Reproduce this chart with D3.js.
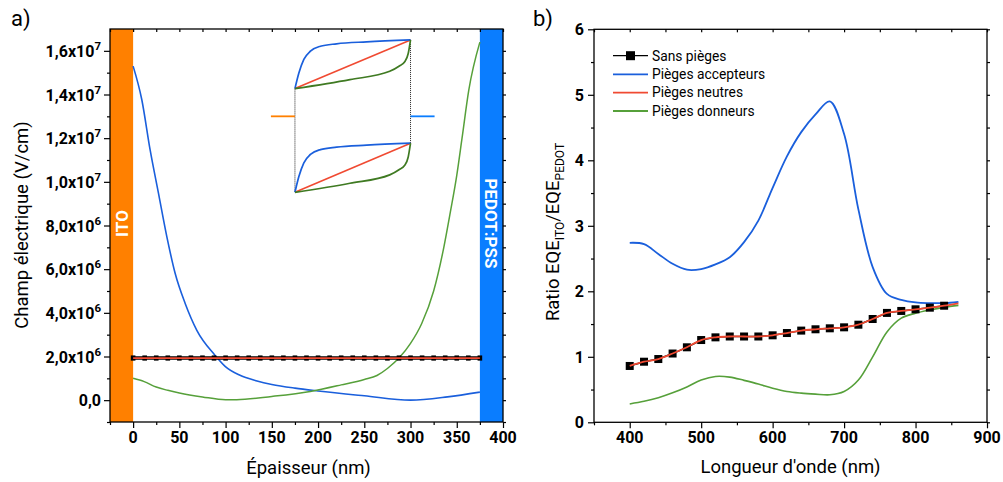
<!DOCTYPE html>
<html><head><meta charset="utf-8">
<script src="https://cdn.jsdelivr.net/npm/d3@7"></script>
<style>body{margin:0;background:#fff} svg{display:block} text{font-family:Roboto,'Noto Sans',sans-serif}</style>
</head><body><svg id="c" width="1003" height="482"></svg>
<script>
// ---------- Panel a) data ----------
const accX = [0, 9.4, 18.4, 27.4, 36.5, 45.5, 56.3, 68.9, 88.7, 99.5, 115, 134, 150, 175, 200, 250, 300, 340, 375];
const accField = [15.3e6, 13.76e6, 11.46e6, 9.48e6, 7.48e6, 5.8e6, 4.43e6, 3.2e6, 2.05e6, 1.55e6, 1.15e6, 0.88e6, 0.72e6, 0.55e6, 0.42e6, 0.2e6, 0.0, 0.15e6, 0.37e6];
const donX = [0, 12, 25, 37.5, 50, 75, 100, 112, 150, 191.6, 225, 250, 263.7, 275, 288, 300, 312, 325, 336, 343, 350, 355.7, 363, 375];
const donField = [1.0e6, 0.85e6, 0.6e6, 0.45e6, 0.33e6, 0.15e6, 0.02e6, 0.02e6, 0.17e6, 0.4e6, 0.7e6, 0.95e6, 1.13e6, 1.45e6, 1.95e6, 2.6e6, 3.5e6, 5.0e6, 7.0e6, 8.6e6, 10.3e6, 12.0e6, 14.2e6, 16.4e6];
const flatX = [0, 12.5, 25, 37.5, 50, 62.5, 75, 87.5, 100, 112.5, 125, 137.5, 150, 162.5, 175, 187.5, 200, 212.5, 225, 237.5, 250, 262.5, 275, 287.5, 300, 312.5, 325, 337.5, 350, 362.5, 375];
const flatField = [1.93e6, 1.93e6, 1.93e6, 1.93e6, 1.93e6, 1.93e6, 1.93e6, 1.93e6, 1.93e6, 1.93e6, 1.93e6, 1.93e6, 1.93e6, 1.93e6, 1.93e6, 1.93e6, 1.93e6, 1.93e6, 1.93e6, 1.93e6, 1.93e6, 1.93e6, 1.93e6, 1.93e6, 1.93e6, 1.93e6, 1.93e6, 1.93e6, 1.93e6, 1.93e6, 1.93e6];
const ticksA_X = [0, 50, 100, 150, 200, 250, 300, 350, 400];
const ticksA_Y = [0, 2e6, 4e6, 6e6, 8e6, 1e7, 1.2e7, 1.4e7, 1.6e7];
const ticksA_Ymant = ["0,0", "2,0", "4,0", "6,0", "8,0", "1,0", "1,2", "1,4", "1,6"];
const ticksA_Yexp = ["", "6", "6", "6", "6", "7", "7", "7", "7"];
const bandITO = [-25, 0];
const bandPEDOT = [375, 400];
// inset schematic (placed in data units of panel a)
const insetX = [175, 300];
const insetTopY = [14.27e6, 16.5e6];
const insetBotY = [9.52e6, 11.77e6];
const insetLeadY = 13.0e6;
const insetLeadITO = [149, 175];
const insetLeadPEDOT = [300, 326];
const insetAccT = [0, 0.034, 0.077, 0.134, 0.22, 0.36, 0.62, 1];
const insetAccV = [0, 0.32, 0.6, 0.77, 0.87, 0.92, 0.96, 1];
const insetNeuT = [0, 1];
const insetNeuV = [0, 1];
const insetDonT = [0, 0.476, 0.82, 0.9, 0.95, 0.98, 1];
const insetDonV = [0, 0.185, 0.355, 0.46, 0.55, 0.72, 1];

// ---------- Panel b) data ----------
const wl = [400, 420, 440, 460, 480, 500, 520, 540, 560, 580, 600, 620, 640, 660, 680, 700, 720, 740, 760, 780, 800, 820, 840, 860];
const ratioNone = [0.86, 0.925, 0.966, 1.05, 1.145, 1.256, 1.297, 1.31, 1.31, 1.31, 1.328, 1.363, 1.40, 1.42, 1.435, 1.45, 1.49, 1.577, 1.67, 1.70, 1.725, 1.75, 1.78];
const ratioAcc = [2.74, 2.72, 2.57, 2.42, 2.33, 2.34, 2.41, 2.52, 2.75, 3.08, 3.58, 4.06, 4.43, 4.70, 4.90, 4.40, 3.25, 2.37, 1.96, 1.87, 1.83, 1.82, 1.82, 1.84];
const ratioNeu = [0.86, 0.925, 0.966, 1.05, 1.145, 1.256, 1.297, 1.31, 1.31, 1.31, 1.328, 1.363, 1.40, 1.42, 1.435, 1.45, 1.49, 1.577, 1.67, 1.70, 1.725, 1.75, 1.78, 1.817];
const ratioDon = [0.28, 0.32, 0.375, 0.45, 0.54, 0.645, 0.70, 0.69, 0.64, 0.585, 0.52, 0.47, 0.445, 0.43, 0.42, 0.47, 0.645, 1.0, 1.38, 1.59, 1.665, 1.715, 1.755, 1.785];
const ticksB_X = [400, 500, 600, 700, 800, 900];
const ticksB_Y = [0, 1, 2, 3, 4, 5, 6];
const legendLabels = ["Sans pièges", "Pièges accepteurs", "Pièges neutres", "Pièges donneurs"];

// ---------- styles ----------
const C = {blue: "#1a5fdc", red: "#f04a32", green: "#56a03a", black: "#000",
  orange: "#ff8000", bandBlue: "#0a7dff", insetGreen: "#3f7a22"};

const svg = d3.select("#c");

function drawFrame(g, x, y, xMaj, xMin, yMaj, yMin) {
  const [x0, x1] = x.range(), [y0, y1] = y.range();
  g.append("g").attr("transform", `translate(0,${y0})`)
    .call(d3.axisBottom(x).tickValues(xMin).tickSize(3).tickFormat(""));
  g.append("g").attr("transform", `translate(0,${y0})`)
    .call(d3.axisBottom(x).tickValues(xMaj).tickSize(6).tickFormat(""));
  g.append("g").attr("transform", `translate(0,${y1})`)
    .call(d3.axisBottom(x).tickValues(xMin.concat(xMaj)).tickSize(3).tickFormat(""));
  g.append("g").attr("transform", `translate(${x0},0)`)
    .call(d3.axisLeft(y).tickValues(yMin).tickSize(3).tickFormat(""));
  g.append("g").attr("transform", `translate(${x0},0)`)
    .call(d3.axisLeft(y).tickValues(yMaj).tickSize(6).tickFormat(""));
  g.append("g").attr("transform", `translate(${x1},0)`)
    .call(d3.axisRight(y).tickValues(yMin.concat(yMaj)).tickSize(3).tickFormat(""));
  g.selectAll(".domain").remove();
  g.selectAll(".tick line").attr("stroke", "#000").attr("stroke-width", 1.2);
  g.append("rect").attr("x", x0).attr("y", y1).attr("width", x1 - x0).attr("height", y0 - y1)
    .attr("fill", "none").attr("stroke", "#000").attr("stroke-width", 1.3);
}

// ================= Panel a =================
const xa = d3.scaleLinear().domain([-25, 400]).range([110, 503]);
const ya = d3.scaleLinear().domain([-1e6, 1.7e7]).range([422, 29]);
const ga = svg.append("g");

ga.append("rect").attr("x", xa(bandITO[0])).attr("y", ya(1.7e7)).attr("width", xa(bandITO[1]) - xa(bandITO[0]))
  .attr("height", ya(-1e6) - ya(1.7e7)).attr("fill", C.orange);
ga.append("rect").attr("x", xa(bandPEDOT[0])).attr("y", ya(1.7e7)).attr("width", xa(bandPEDOT[1]) - xa(bandPEDOT[0]))
  .attr("height", ya(-1e6) - ya(1.7e7)).attr("fill", C.bandBlue);
const yMid = (ya(1.7e7) + ya(-1e6)) / 2 - 2;
ga.append("text").attr("transform", `translate(${(xa(-25) + xa(0)) / 2 + 6},${yMid}) rotate(-90)`)
  .attr("text-anchor", "middle").attr("fill", "#fff").attr("font-weight", "bold").attr("font-size", 17).text("ITO");
ga.append("text").attr("transform", `translate(${(xa(375) + xa(400)) / 2 - 6},${yMid}) rotate(90)`)
  .attr("text-anchor", "middle").attr("fill", "#fff").attr("font-weight", "bold").attr("font-size", 17).text("PEDOT:PSS");

const lineA = d3.line().x(d => xa(d[0])).y(d => ya(d[1])).curve(d3.curveMonotoneX);
ga.append("path").attr("d", lineA(d3.zip(accX, accField))).attr("fill", "none").attr("stroke", C.blue).attr("stroke-width", 1.6);
ga.append("path").attr("d", lineA(d3.zip(donX, donField))).attr("fill", "none").attr("stroke", C.green).attr("stroke-width", 1.5);
ga.append("path").attr("d", lineA(d3.zip(flatX, flatField))).attr("fill", "none").attr("stroke", "#000").attr("stroke-width", 3.6);
ga.selectAll(".sqa").data(d3.zip(flatX, flatField)).enter().append("rect")
  .attr("x", d => xa(d[0]) - 2.3).attr("y", d => ya(d[1]) - 2.6).attr("width", 4.6).attr("height", 5.2).attr("fill", "#000");
ga.append("path").attr("d", lineA(d3.zip(flatX, flatField))).attr("fill", "none").attr("stroke", C.red).attr("stroke-width", 1.8);

// inset
function insetPath(T, V, base) {
  const pts = T.map((t, i) => [insetX[0] + t * (insetX[1] - insetX[0]), base[0] + V[i] * (base[1] - base[0])]);
  return d3.line().x(d => xa(d[0])).y(d => ya(d[1])).curve(d3.curveMonotoneX)(pts);
}
[[insetX[0], insetTopY[0], insetBotY[0]], [insetX[1], insetTopY[1], insetBotY[1]]].forEach(v => {
  ga.append("line").attr("x1", xa(v[0])).attr("x2", xa(v[0])).attr("y1", ya(v[1])).attr("y2", ya(v[2]))
    .attr("stroke", "#222").attr("stroke-width", 1).attr("stroke-dasharray", "1,1");
});
ga.append("line").attr("x1", xa(insetLeadITO[0])).attr("x2", xa(insetLeadITO[1])).attr("y1", ya(insetLeadY)).attr("y2", ya(insetLeadY))
  .attr("stroke", C.orange).attr("stroke-width", 1.8);
ga.append("line").attr("x1", xa(insetLeadPEDOT[0])).attr("x2", xa(insetLeadPEDOT[1])).attr("y1", ya(insetLeadY)).attr("y2", ya(insetLeadY))
  .attr("stroke", C.bandBlue).attr("stroke-width", 1.8);
[insetTopY, insetBotY].forEach(base => {
  ga.append("path").attr("d", insetPath(insetNeuT, insetNeuV, base)).attr("fill", "none").attr("stroke", C.red).attr("stroke-width", 1.6);
  ga.append("path").attr("d", insetPath(insetAccT, insetAccV, base)).attr("fill", "none").attr("stroke", C.blue).attr("stroke-width", 1.7);
  ga.append("path").attr("d", insetPath(insetDonT, insetDonV, base)).attr("fill", "none").attr("stroke", C.insetGreen).attr("stroke-width", 1.7);
});

const xaMin = [-25, 25, 75, 125, 175, 225, 275, 325, 375];
const yaMin = [-1e6, 1e6, 3e6, 5e6, 7e6, 9e6, 1.1e7, 1.3e7, 1.5e7];
drawFrame(ga, xa, ya, ticksA_X, xaMin, ticksA_Y, yaMin);

ga.selectAll(".xla").data(ticksA_X).enter().append("text")
  .attr("x", d => xa(d)).attr("y", 443).attr("text-anchor", "middle")
  .attr("font-weight", "bold").attr("font-size", 16).text(d => d);
ticksA_Y.forEach((v, i) => {
  const t = ga.append("text").attr("x", 101).attr("y", ya(v) + 6).attr("text-anchor", "end")
    .attr("font-weight", "bold").attr("font-size", 16);
  if (ticksA_Yexp[i]) {
    t.append("tspan").text(ticksA_Ymant[i] + "x10");
    t.append("tspan").attr("dy", -7).attr("font-size", 11.5).text(ticksA_Yexp[i]);
  } else {
    t.text(ticksA_Ymant[i]);
  }
});
ga.append("text").attr("x", (xa(-25) + xa(400)) / 2 + 2).attr("y", 474).attr("text-anchor", "middle")
  .attr("font-size", 18.5).text("Épaisseur (nm)");
ga.append("text").attr("transform", `translate(28,225) rotate(-90)`).attr("text-anchor", "middle")
  .attr("font-size", 18.5).text("Champ électrique (V/cm)");
svg.append("text").attr("x", 11).attr("y", 26).attr("font-size", 22).text("a)");

// ================= Panel b =================
const xb = d3.scaleLinear().domain([350, 900]).range([594, 987]);
const yb = d3.scaleLinear().domain([0, 6]).range([422.3, 29.3]);
const gb = svg.append("g");
const lineB = d3.line().x(d => xb(d[0])).y(d => yb(d[1])).curve(d3.curveCatmullRom.alpha(0.5));
gb.append("path").attr("d", lineB(d3.zip(wl, ratioAcc))).attr("fill", "none").attr("stroke", C.blue).attr("stroke-width", 1.8);
gb.append("path").attr("d", lineB(d3.zip(wl, ratioDon))).attr("fill", "none").attr("stroke", C.green).attr("stroke-width", 1.6);
gb.append("path").attr("d", d3.line().x(d => xb(d[0])).y(d => yb(d[1]))(d3.zip(wl, ratioNone)))
  .attr("fill", "none").attr("stroke", "#000").attr("stroke-width", 1.4);
gb.selectAll(".sqb").data(d3.zip(wl, ratioNone)).enter().append("rect")
  .attr("x", d => xb(d[0]) - 4).attr("y", d => yb(d[1]) - 4).attr("width", 8).attr("height", 8).attr("fill", "#000");
gb.append("path").attr("d", lineB(d3.zip(wl, ratioNeu))).attr("fill", "none").attr("stroke", C.red).attr("stroke-width", 1.8);

const xbMin = [350, 450, 550, 650, 750, 850];
const ybMin = [0.5, 1.5, 2.5, 3.5, 4.5, 5.5];
drawFrame(gb, xb, yb, ticksB_X, xbMin, ticksB_Y, ybMin);
gb.selectAll(".xlb").data(ticksB_X).enter().append("text")
  .attr("x", d => xb(d)).attr("y", 443).attr("text-anchor", "middle")
  .attr("font-weight", "bold").attr("font-size", 16).text(d => d);
gb.selectAll(".ylb").data(ticksB_Y).enter().append("text")
  .attr("x", 584).attr("y", d => yb(d) + 6).attr("text-anchor", "end")
  .attr("font-weight", "bold").attr("font-size", 16).text(d => d);
gb.append("text").attr("x", (xb(350) + xb(900)) / 2).attr("y", 473).attr("text-anchor", "middle")
  .attr("font-size", 18.5).text("Longueur d'onde (nm)");
const yt = gb.append("text").attr("transform", `translate(559,232) rotate(-90)`).attr("text-anchor", "middle").attr("font-size", 18.5);
yt.append("tspan").text("Ratio EQE");
yt.append("tspan").attr("dy", 5).attr("font-size", 12).text("ITO");
yt.append("tspan").attr("dy", -5).text("/EQE");
yt.append("tspan").attr("dy", 5).attr("font-size", 12).text("PEDOT");
svg.append("text").attr("x", 533).attr("y", 26).attr("font-size", 22).text("b)");

// legend
const legColors = ["#000", C.blue, C.red, C.green];
const legY = [55.7, 74.3, 92.6, 111];
legendLabels.forEach((lab, i) => {
  gb.append("line").attr("x1", 613).attr("x2", 648).attr("y1", legY[i]).attr("y2", legY[i])
    .attr("stroke", legColors[i]).attr("stroke-width", i === 0 ? 1.3 : 1.8);
  if (i === 0) gb.append("rect").attr("x", 626).attr("y", legY[i] - 4.5).attr("width", 9).attr("height", 9).attr("fill", "#000");
  gb.append("text").attr("x", 652).attr("y", legY[i] + 4.8).attr("font-size", 13.8).text(lab);
});
</script></body></html>
